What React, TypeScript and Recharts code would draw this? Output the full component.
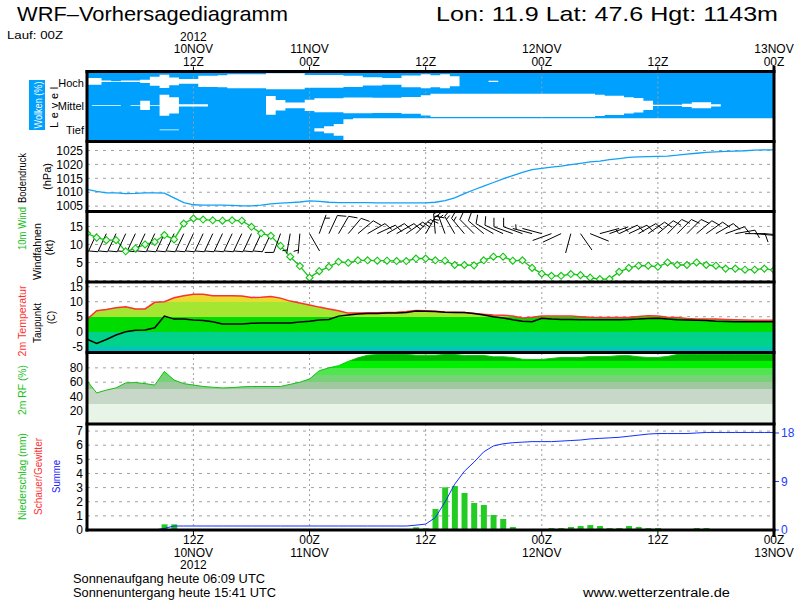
import React from 'react';
import { ComposedChart, Area, Line, Bar, Scatter, XAxis, YAxis, CartesianGrid } from 'recharts';

// ---------------- DATA ----------------
const hours = [1,2,3,4,5,6,7,8,9,10,11,12,13,14,15,16,17,18,19,20,21,22,23,24,25,26,27,28,29,30,31,32,33,34,35,36,37,38,39,40,41,42,43,44,45,46,47,48,49,50,51,52,53,54,55,56,57,58,59,60,61,62,63,64,65,66,67,68,69,70,71,72];

const cloudHigh = [0.29,0.29,0.07,0.03,0.07,0.07,0.14,0.39,0.57,0.33, 0.2,0.2,0.48,0.48,0.52,0.6,0.6,0.6,0.6,0.68, 0.68,0.68,0.68,0.55,0.55,0.55,0.55,0.48,0.48,0.35, 0.35,0.29,0.29,0.5,0.5,0.6,0.52,0.6,0.43,0, 0,0,0.05,0,0,0,0,0,0,0, 0,0,0,0,0,0,0,0,0,0, 0,0,0,0,0,0,0,0,0,0, 0,0];
const cloudMid = [0,0.03,0.03,0.03,0,0.03,0.39,0.03,0.9,0.7, 0.1,0.1,0.1,0,0,0,0,0,0,0.8, 0.45,0.25,0.25,0.48,0.6,0.6,0.6,0.68,0.68,0.68, 0.65,0.65,0.65,0.72,0.72,0.87,1,1,1,1, 1,1,1,1,1,1,1,1,1,1, 1,1,1,0.91,0.82,0.82,0.7,0.62,0.39,0.06, 0.06,0.06,0.14,0.26,0.26,0.1,0,0,0,0, 0,0];
const cloudLow = [0,0,0,0,0,0,0,0,0.03,0.03, 0,0,0,0,0,0,0,0,0,0, 0,0,0,0,0.14,0.3,0.5,0.9,1,1, 1,1,1,1,1,1,1,1,1,1, 1,1,1,1,1,1,1,1,1,1, 1,1,1,1,1,1,1,1,1,1, 1,1,1,1,1,1,1,1,1,1, 1,1];

const pressure = [1011.0,1010.3,1009.8,1009.8,1009.5,1009.6,1009.8,1009.8,1009.7,1008.0, 1006.3,1005.5,1005.4,1005.4,1005.4,1005.3,1005.1,1005.1,1005.4,1005.8, 1006.1,1006.3,1006.5,1006.9,1006.7,1006.4,1006.3,1006.3,1006.3,1006.3, 1006.2,1006.2,1006.2,1006.2,1006.2,1006.2,1006.4,1007.0,1008.0,1009.5, 1010.9,1012.2,1013.5,1014.8,1016.0,1017.1,1018.1,1018.6,1019.0,1019.4, 1019.9,1020.4,1020.9,1021.2,1021.7,1022.1,1022.5,1022.7,1022.8,1022.9, 1023.0,1023.3,1023.7,1024.0,1024.3,1024.5,1024.7,1024.8,1024.9,1025.1, 1025.2,1025.2];

const windSpeed = [13.1,11.9,11.2,11.2,8.1,8.9,10.0,10.7,12.6,11.4, 15.8,17.2,16.9,16.7,16.6,16.7,16.6,14.9,13.1,12.4, 9.6,6.6,4.0,0.8,2.6,3.8,5.2,4.9,5.6,5.6, 5.5,5.5,5.4,5.4,6.1,6.1,5.6,5.5,4.3,4.3, 4.2,5.6,6.6,6.6,5.5,5.6,3.5,1.9,1.3,1.3, 1.8,1.5,0.8,0.4,0.4,2.4,3.5,4.1,4.1,3.8, 5.0,4.3,4.3,5.0,4.3,4.1,3.3,3.3,3.0,3.0, 3.3,2.9];
const barbDir = [205,205,205,205,205,205,205,205,205,205, 205,205,205,205,205,205,205,205,205,205, 200,190,185,150,20,25,30,40,50,60, 65,60,60,55,45,30,355,340,330,320, 315,310,300,295,290,290,285,285,250,245, 195,145,112,75,70,65,65,60,55,50, 45,45,45,50,55,60,70,80,90,95, 95,95];
const barbSpeed = [10,10,10,10,10,10,10,10,10,10, 10,10,10,10,10,10,10,10,10,10, 10,5,5,0,5,10,10,10,10,10, 10,10,10,15,15,15,15,15,15,15, 10,10,10,10,10,10,5,0,0,0, 0,0,0,5,5,10,10,10,10,10, 10,10,10,10,10,10,10,10,10,10, 10,10];

const temp2m = [4.1,7.0,7.4,8.0,8.3,7.6,7.6,9.8,10.0,11.3, 12.0,12.5,12.5,12.0,12.0,12.0,11.9,11.4,11.5,11.7, 11.2,10.2,9.6,8.9,8.2,7.6,7.0,6.2,6.2,6.3, 6.3,6.4,6.5,6.7,7.1,7.0,6.8,6.6,6.5,6.4, 6.1,5.8,5.6,5.5,5.2,4.6,4.8,5.2,5.2,5.2, 5.2,5.0,4.8,4.7,4.7,4.7,4.8,5.1,5.3,5.2, 4.8,4.7,4.4,4.2,4.2,4.2,4.1,4.0,3.9,3.8, 3.8,3.8];
const dewPoint = [-2.5,-3.9,-2.6,-1.1,0.0,0.5,0.6,1.3,5.2,4.2, 4.2,3.9,3.7,3.3,2.6,2.6,2.6,2.8,2.9,2.9, 2.9,2.9,3.2,3.5,3.9,4.1,5.2,5.6,5.9,6.1, 6.1,6.2,6.2,6.4,6.9,6.8,6.7,6.5,6.4,6.4, 6.1,5.6,5.0,4.6,4.0,3.5,3.3,4.5,4.2,4.1, 4.1,4.0,4.0,4.0,4.0,4.0,4.1,4.2,4.4,4.5, 4.2,4.0,3.9,3.8,3.7,3.5,3.4,3.3,3.3,3.3, 3.3,3.3];

const relHum = [62,45,49,52,59,59.5,58,56,75,63, 58,56,54,53,52,52.5,53.5,54,54,54, 54,57,60,64.5,76,80,83,89,94,97.5, 98.6,98.6,98.6,98.6,97.7,97.7,97.7,98.6,98.6,97.3, 97.3,97.3,95.4,95.4,94.5,92,91.7,91.7,93.1,94.5, 94.5,94.5,95.9,95.9,95.9,97,97,95.4,94.5,94.5, 95.9,98.6,98.6,98.6,98.6,98.6,98.6,98.6,98.6,98.6, 98.6,98.6];

const precip = [0,0,0,0,0,0,0,0,0.4,0.4, 0,0,0,0,0,0,0,0,0,0, 0,0,0,0,0,0,0,0,0,0, 0,0,0,0,0.19,0.12,1.49,3.02,3.11,2.62, 1.91,1.77,1.06,0.78,0.21,0,0,0,0.14,0.14, 0.21,0.28,0.35,0.28,0.14,0.14,0.28,0.21,0.14,0.14, 0,0,0,0.14,0.14,0,0,0,0,0, 0,0];
const precipSum = [0,0,0,0,0,0,0,0,0.3,0.74, 0.74,0.74,0.74,0.74,0.74,0.74,0.74,0.74,0.74,0.74, 0.74,0.74,0.74,0.74,0.74,0.74,0.74,0.74,0.74,0.74, 0.74,0.74,0.74,0.74,0.9,1.1,2.3,5.2,8.5,10.9, 12.6,14.5,15.6,16.0,16.2,16.3,16.4,16.4,16.4,16.5, 16.6,16.7,16.9,17.0,17.1,17.2,17.4,17.6,17.8,17.9, 17.9,17.9,17.9,18.0,18.1,18.1,18.1,18.1,18.1,18.1, 18.1,18.1];

const timeTicks = [12, 24, 36, 48, 60, 72];
const timeLabelsTop = [['2012', '10NOV', '12Z'], ['11NOV', '00Z'], ['12Z'], ['12NOV', '00Z'], ['12Z'], ['13NOV', '00Z']];
const timeLabelsBottom = [['12Z', '10NOV', '2012'], ['00Z', '11NOV'], ['12Z'], ['00Z', '12NOV'], ['12Z'], ['00Z', '13NOV']];
const cloudLevelTicks = [0.5, 1.5, 2.5];
const cloudLevelLabels = ['Tief', 'Mittel', 'Hoch'];
const pressureTicks = [1005, 1010, 1015, 1020, 1025];
const windTicks = [0, 5, 10, 15];
const tempTicks = [-5, 0, 5, 10, 15];
const rhTicks = [20, 40, 60, 80];
const precipTicks = [0, 1, 2, 3, 4, 5, 6, 7];
const sumTicks = [0, 9, 18];

// ---------------- LAYOUT / STYLE ----------------
const FONT = "'Liberation Sans', Arial, Helvetica, sans-serif";
const GRID = '#a0a0a0';
const CLOUD_BLUE = '#00a0ff';
const Y_CLOUD = 71.5, Y_PRESS = 141.5, Y_WIND = 211.5, Y_TEMP = 282, Y_RH = 352.5, Y_PREC = 424, Y_END = 530;
const X_L = 87, X_R = 774;
const CLOUD_C = [0.5, 1.55, 2.58];
const BARB_LEVEL = 13;

const X_DOMAIN = [1, 72];
const PRESS_DOMAIN = [1002.9, 1028.05];
const WIND_DOMAIN = [-0.55, 19];
const TEMP_DOMAIN = [-6.93, 16.57];
const RH_DOMAIN = [1, 100.7];
const PREC_DOMAIN = [0, 7.5];
const SUM_DOMAIN = [0, 19.67];

const tempBands = [[99, 15, '#f0b428'], [15, 10, '#e6dc32'], [10, 5, '#a5e632'], [5, 0, '#00dc00'], [0, -5, '#00d28c'], [-5, -99, '#00c3c3']];
const rhBands = [[999, 90, '#00b400'], [90, 80, '#00f000'], [80, 70, '#50e650'], [70, 60, '#78d278'], [60, 50, '#a0c8a0'], [50, 30, '#c8d8c8'], [30, -99, '#e8f4e8']];

const rows = hours.map((h, i) => ({
  h,
  low: [CLOUD_C[0] - cloudLow[i] / 2, CLOUD_C[0] + cloudLow[i] / 2],
  mid: [CLOUD_C[1] - cloudMid[i] / 2, CLOUD_C[1] + cloudMid[i] / 2],
  high: [CLOUD_C[2] - cloudHigh[i] / 2, CLOUD_C[2] + cloudHigh[i] / 2],
  p: pressure[i],
  wind: windSpeed[i],
  barbY: BARB_LEVEL,
  dir: barbDir[i],
  spd: barbSpeed[i],
  t: temp2m[i],
  td: dewPoint[i],
  rh: relHum[i],
  pr: precip[i],
  sum: precipSum[i],
}));

function bandStops(domain: number[], bands: any[]) {
  const [lo, hi] = domain;
  const f = (v: number) => Math.max(0, Math.min(1, (hi - v) / (hi - lo)));
  const out: any[] = [];
  bands.forEach((b, i) => {
    out.push(<stop key={'a' + i} offset={f(b[0])} stopColor={b[2]} />);
    out.push(<stop key={'b' + i} offset={f(b[1])} stopColor={b[2]} />);
  });
  return out;
}

const TopTick = (props: any) => {
  const { x, payload } = props;
  const idx = timeTicks.indexOf(payload.value);
  const lines = idx >= 0 ? timeLabelsTop[idx] : [];
  return (
    <g>
      {lines.map((s, i) => (
        <text key={i} x={x} y={Y_CLOUD - 6 - (lines.length - 1 - i) * 12.5} textAnchor="middle" fontSize={12} fontFamily={FONT} fill="#000">{s}</text>
      ))}
    </g>
  );
};

const BottomTick = (props: any) => {
  const { x, payload } = props;
  const idx = timeTicks.indexOf(payload.value);
  const lines = idx >= 0 ? timeLabelsBottom[idx] : [];
  const base = Y_END - Y_PREC;
  return (
    <g>
      {lines.map((s, i) => (
        <text key={i} x={x} y={base + 14 + i * 12.5} textAnchor="middle" fontSize={12} fontFamily={FONT} fill="#000">{s}</text>
      ))}
    </g>
  );
};

const Diamond = (props: any) => {
  const { cx, cy, index } = props;
  if (cx == null || cy == null) return <g key={index} />;
  return (
    <polygon key={index} points={`${cx},${cy - 3.5} ${cx + 3.5},${cy} ${cx},${cy + 3.5} ${cx - 3.5},${cy}`} fill="#e8ffe8" stroke="#18c018" strokeWidth={1.1} />
  );
};

const Barb = (props: any) => {
  const { cx, cy, payload } = props;
  if (cx == null || cy == null || !payload) return <g />;
  const r = (payload.dir * Math.PI) / 180;
  const ux = Math.sin(r), uy = -Math.cos(r);
  const L = 20;
  const ex = cx + ux * L, ey = cy + uy * L;
  const a = (70 * Math.PI) / 180;
  const fx = ux * Math.cos(a) - uy * Math.sin(a);
  const fy = ux * Math.sin(a) + uy * Math.cos(a);
  const segs: number[][] = [[cx, cy, ex, ey]];
  const full = Math.floor(payload.spd / 10);
  const half = payload.spd % 10 >= 5;
  let k = 0;
  for (; k < full; k++) {
    const sx = ex - ux * k * 3.5, sy = ey - uy * k * 3.5;
    segs.push([sx, sy, sx + fx * 9, sy + fy * 9]);
  }
  if (half) {
    if (k === 0) k = 1;
    const sx = ex - ux * k * 3.5, sy = ey - uy * k * 3.5;
    segs.push([sx, sy, sx + fx * 5, sy + fy * 5]);
  }
  return (
    <g>
      {segs.map((s, i) => (
        <line key={i} x1={s[0]} y1={s[1]} x2={s[2]} y2={s[3]} stroke="#000" strokeWidth={1} />
      ))}
    </g>
  );
};

const tickStyle = { fontSize: 12, fill: '#000', fontFamily: FONT };

const leftAxis = (domain: number[], ticks: number[], extra: any = {}) => (
  <YAxis type="number" domain={domain} ticks={ticks} width={X_L} tickLine={false} axisLine={false} tickSize={0} tickMargin={4} tick={tickStyle} interval={0} allowDataOverflow {...extra} />
);

const hiddenX = (
  <XAxis type="number" dataKey="h" domain={X_DOMAIN} ticks={timeTicks} hide allowDataOverflow />
);

const hGrid = <CartesianGrid vertical={false} stroke={GRID} strokeDasharray="3 5" />;
const vGrid = <CartesianGrid horizontal={false} stroke={GRID} strokeDasharray="2 3" />;

const rot = (x: number, y: number, text: string, color: string, len: number, extra: any = {}) => (
  <text x={x} y={y} transform={`rotate(-90 ${x} ${y})`} textAnchor="middle" dominantBaseline="central" fontSize={11.5} fontFamily={FONT} fill={color} textLength={len} lengthAdjust="spacingAndGlyphs" {...extra}>{text}</text>
);

export default function App() {
  const tempH = Y_RH - Y_TEMP;
  const rhH = Y_PREC - Y_RH;
  return (
    <div style={{ position: 'absolute', left: 0, top: 0, width: 800, height: 600, background: '#fff', overflow: 'hidden', fontFamily: FONT }}>
      <svg width={0} height={0} style={{ position: 'absolute' }}>
        <defs>
          <linearGradient id="tempFill" gradientUnits="userSpaceOnUse" x1={0} y1={0} x2={0} y2={tempH}>
            {bandStops(TEMP_DOMAIN, tempBands)}
          </linearGradient>
          <linearGradient id="rhFill" gradientUnits="userSpaceOnUse" x1={0} y1={0} x2={0} y2={rhH}>
            {bandStops(RH_DOMAIN, rhBands)}
          </linearGradient>
        </defs>
      </svg>

      {/* cloud panel background (clear sky) */}
      <div style={{ position: 'absolute', left: X_L, top: Y_CLOUD, width: X_R - X_L, height: Y_PRESS - Y_CLOUD, background: CLOUD_BLUE }} />

      {/* Clouds */}
      <div style={{ position: 'absolute', left: 0, top: 0 }}>
        <ComposedChart width={800} height={Y_PRESS} data={rows} margin={{ top: 0, right: 800 - X_R, bottom: 0, left: 0 }}>
          <XAxis type="number" dataKey="h" domain={X_DOMAIN} ticks={timeTicks} orientation="top" height={Y_CLOUD} axisLine={false} tickLine={{ stroke: '#000' }} tickSize={5} tick={(p: any) => <TopTick {...p} />} interval={0} allowDataOverflow />
          {leftAxis([0, 3], cloudLevelTicks, { tickFormatter: (v: number) => cloudLevelLabels[cloudLevelTicks.indexOf(v)], tickMargin: 3, tick: { ...tickStyle, fontSize: 11 } })}
          <Area dataKey="low" type="step" fill="#fff" fillOpacity={1} stroke="none" isAnimationActive={false} />
          <Area dataKey="mid" type="step" fill="#fff" fillOpacity={1} stroke="none" isAnimationActive={false} />
          <Area dataKey="high" type="step" fill="#fff" fillOpacity={1} stroke="none" isAnimationActive={false} />
          {vGrid}
        </ComposedChart>
      </div>

      {/* Pressure */}
      <div style={{ position: 'absolute', left: 0, top: Y_PRESS }}>
        <ComposedChart width={800} height={Y_WIND - Y_PRESS} data={rows} margin={{ top: 0, right: 800 - X_R, bottom: 0, left: 0 }}>
          {hiddenX}
          {leftAxis(PRESS_DOMAIN, pressureTicks)}
          {hGrid}
          {vGrid}
          <Line dataKey="p" type="linear" stroke="#10a0f8" strokeWidth={1.3} dot={false} isAnimationActive={false} />
        </ComposedChart>
      </div>

      {/* Wind */}
      <div style={{ position: 'absolute', left: 0, top: Y_WIND }}>
        <ComposedChart width={800} height={Y_TEMP - Y_WIND} data={rows} margin={{ top: 0, right: 800 - X_R, bottom: 0, left: 0 }}>
          {hiddenX}
          {leftAxis(WIND_DOMAIN, windTicks)}
          {hGrid}
          {vGrid}
          <Scatter dataKey="barbY" shape={(p: any) => <Barb {...p} />} isAnimationActive={false} />
          <Line dataKey="wind" type="linear" stroke="#18c018" strokeWidth={1.3} dot={(p: any) => <Diamond {...p} key={p.index} />} isAnimationActive={false} />
        </ComposedChart>
      </div>

      {/* Temperature */}
      <div style={{ position: 'absolute', left: 0, top: Y_TEMP }}>
        <ComposedChart width={800} height={tempH} data={rows} margin={{ top: 0, right: 800 - X_R, bottom: 0, left: 0 }}>
          {hiddenX}
          {leftAxis(TEMP_DOMAIN, tempTicks)}
          <Area dataKey="t" type="linear" baseValue={TEMP_DOMAIN[0]} fill="url(#tempFill)" fillOpacity={1} stroke="none" isAnimationActive={false} />
          {hGrid}
          {vGrid}
          <Line dataKey="t" type="linear" stroke="#ff3030" strokeWidth={1.5} dot={false} isAnimationActive={false} />
          <Line dataKey="td" type="linear" stroke="#000" strokeWidth={1.5} dot={false} isAnimationActive={false} />
        </ComposedChart>
      </div>

      {/* Relative humidity */}
      <div style={{ position: 'absolute', left: 0, top: Y_RH }}>
        <ComposedChart width={800} height={rhH} data={rows} margin={{ top: 0, right: 800 - X_R, bottom: 0, left: 0 }}>
          {hiddenX}
          {leftAxis(RH_DOMAIN, rhTicks)}
          <Area dataKey="rh" type="linear" baseValue={RH_DOMAIN[0]} fill="url(#rhFill)" fillOpacity={1} stroke="#10c010" strokeWidth={1} isAnimationActive={false} />
          {hGrid}
          {vGrid}
        </ComposedChart>
      </div>

      {/* Precipitation */}
      <div style={{ position: 'absolute', left: 0, top: Y_PREC }}>
        <ComposedChart width={800} height={Y_END - Y_PREC + 44} data={rows} margin={{ top: 0, right: 0, bottom: 0, left: 0 }}>
          <XAxis type="number" dataKey="h" domain={X_DOMAIN} ticks={timeTicks} orientation="bottom" height={44} axisLine={false} tickLine={{ stroke: '#000' }} tickSize={6} tick={(p: any) => <BottomTick {...p} />} interval={0} allowDataOverflow />
          {leftAxis(PREC_DOMAIN, precipTicks)}
          <YAxis yAxisId="sum" orientation="right" type="number" domain={SUM_DOMAIN} ticks={sumTicks} width={800 - X_R} tickLine={{ stroke: '#2040ff' }} tickSize={5} tickMargin={2} axisLine={false} tick={{ fontSize: 12, fill: '#2040ff', fontFamily: FONT }} interval={0} allowDataOverflow />
          {hGrid}
          {vGrid}
          <Bar dataKey="pr" fill="#22cc22" barSize={6} isAnimationActive={false} />
          <Line yAxisId="sum" dataKey="sum" type="linear" stroke="#1030ff" strokeWidth={1} dot={false} isAnimationActive={false} />
        </ComposedChart>
      </div>

      {/* frame and static texts */}
      <svg width={800} height={600} style={{ position: 'absolute', left: 0, top: 0, pointerEvents: 'none' }}>
        {[Y_CLOUD, Y_PRESS, Y_WIND, Y_TEMP, Y_RH, Y_PREC, Y_END].map((y, i) => (
          <line key={i} x1={X_L - 1.5} x2={X_R + 1.5} y1={y} y2={y} stroke="#000" strokeWidth={3} />
        ))}
        <line x1={X_L} x2={X_L} y1={Y_CLOUD - 1.5} y2={Y_END + 1.5} stroke="#000" strokeWidth={3} />
        <line x1={X_R} x2={X_R} y1={66} y2={537} stroke="#000" strokeWidth={3} />

        <text x={17} y={21} fontSize={21} fontFamily={FONT} textLength={271} lengthAdjust="spacingAndGlyphs">WRF–Vorhersagediagramm</text>
        <text x={436} y={21} fontSize={21} fontFamily={FONT} textLength={342} lengthAdjust="spacingAndGlyphs">Lon: 11.9  Lat: 47.6  Hgt: 1143m</text>
        <text x={7} y={38.5} fontSize={11} fontFamily={FONT} textLength={56} lengthAdjust="spacingAndGlyphs">Lauf: 00Z</text>

        <rect x={29} y={80} width={16} height={50} fill={CLOUD_BLUE} />
        {rot(37.5, 105, 'Wolken (%)', '#fff', 47)}
        {rot(54, 105.5, 'Level', '#000', 45, { letterSpacing: 4 })}

        {rot(22, 178, 'Bodendruck', '#000', 50)}
        {rot(47, 176.5, '(hPa)', '#000', 27)}

        {rot(22, 228.5, '10m Wind', '#18c018', 43)}
        {rot(37, 251.5, 'Windfahnen', '#000', 57)}
        {rot(48.5, 247.5, '(kt)', '#000', 16)}

        {rot(22, 321, '2m Temperatur', '#ff3030', 71)}
        {rot(37, 323, 'Taupunkt', '#000', 40)}
        {rot(51, 317.5, '(C)', '#000', 13)}

        {rot(22, 390, '2m RF (%)', '#18c018', 50)}

        {rot(22, 476.5, 'Niederschlag (mm)', '#18c018', 87)}
        {rot(38, 476.5, 'Schauer/Gewitter', '#ff3030', 77)}
        {rot(56, 476.5, 'Summe', '#2020ff', 33)}

        <text x={73} y={583} fontSize={12} fontFamily={FONT} textLength={192} lengthAdjust="spacingAndGlyphs">Sonnenaufgang heute 06:09 UTC</text>
        <text x={73} y={597} fontSize={12} fontFamily={FONT} textLength={203} lengthAdjust="spacingAndGlyphs">Sonnenuntergang heute 15:41 UTC</text>
        <text x={583} y={597} fontSize={12} fontFamily={FONT} textLength={147} lengthAdjust="spacingAndGlyphs">www.wetterzentrale.de</text>
      </svg>
    </div>
  );
}
